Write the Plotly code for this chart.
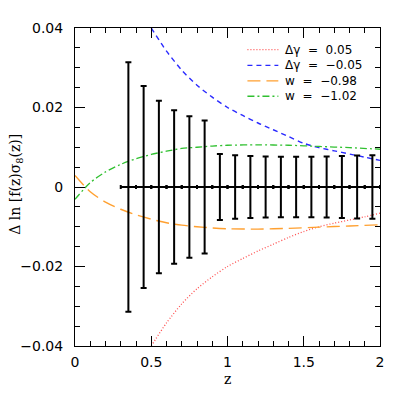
import plotly.graph_objects as go

# ---- data ----
z_err = [0.35, 0.45, 0.55, 0.65, 0.75, 0.85, 0.95, 1.05, 1.15, 1.25, 1.35,
         1.45, 1.55, 1.65, 1.75, 1.85, 1.95]
y_err = [0.0] * len(z_err)
sig = [0.0314, 0.0254, 0.0217, 0.0193, 0.0178, 0.0167, 0.0083, 0.0080,
       0.0078, 0.0077, 0.0076, 0.0076, 0.0076, 0.0077, 0.0078, 0.0079, 0.0080]
z_half = 0.05

z_gam = [0.5, 0.6, 0.7, 0.8, 0.9, 1.0, 1.1, 1.2, 1.3, 1.4, 1.5, 1.6, 1.7,
         1.8, 1.9, 2.0]
dg_p05 = [-0.0400, -0.0342, -0.0294, -0.0256, -0.0226, -0.0200, -0.0180,
          -0.0161, -0.0144, -0.0127, -0.0112, -0.0100, -0.0091, -0.0083,
          -0.0075, -0.0066]
dg_m05 = [0.0400, 0.0342, 0.0294, 0.0256, 0.0226, 0.0200, 0.0180, 0.0161,
          0.0144, 0.0127, 0.0110, 0.0099, 0.0091, 0.0083, 0.0075, 0.0067]

z_w = [0.0, 0.1, 0.2, 0.3, 0.4, 0.5, 0.6, 0.7, 0.8, 0.9, 1.0, 1.2, 1.4,
       1.6, 1.8, 2.0]
w_m098 = [0.0029, -0.0012, -0.0038, -0.0056, -0.0070, -0.0081, -0.0090,
          -0.0096, -0.0100, -0.0103, -0.0105, -0.0106, -0.0104, -0.0101,
          -0.0098, -0.0095]
w_m102 = [-0.0031, 0.0011, 0.0038, 0.0057, 0.0071, 0.0082, 0.0090, 0.0097,
          0.0100, 0.0103, 0.0105, 0.0106, 0.0105, 0.0102, 0.0099, 0.0095]

x_ticks = [0, 0.5, 1, 1.5, 2]
x_ticktext = ["0", "0.5", "1", "1.5", "2"]
y_ticks = [-0.04, -0.02, 0, 0.02, 0.04]
y_ticktext = ["\u22120.04", "\u22120.02", "0", "0.02", "0.04"]

legend_labels = ["\u0394\u03b3  =  0.05", "\u0394\u03b3  =  \u22120.05",
                 "w  =  \u22120.98", "w  =  \u22121.02"]

# ---- styles ----
RED, BLUE, ORANGE, GREEN = "#ff5050", "#2a2aff", "#ffa030", "#30c030"
styles = [
    (RED, "1px,2px", 1.3),
    (BLUE, "5px,4px", 1.4),
    (ORANGE, "13px,6px", 1.4),
    (GREEN, "7px,3px,2px,3px", 1.3),
]

fig = go.Figure()

curves = [(z_gam, dg_p05), (z_gam, dg_m05), (z_w, w_m098), (z_w, w_m102)]
for (zx, yy), (col, dash, wid), lab in zip(curves, styles, legend_labels):
    fig.add_trace(go.Scatter(x=zx, y=yy, mode="lines", name=lab,
                             line=dict(color=col, dash=dash, width=wid,
                                       shape="spline", smoothing=0.8),
                             showlegend=False))

fig.add_trace(go.Scatter(
    x=z_err, y=y_err, mode="markers", marker=dict(size=1, color="black"),
    error_y=dict(type="data", array=sig, color="black", thickness=2, width=3),
    error_x=dict(type="constant", value=z_half, color="black", thickness=2,
                 width=2),
    showlegend=False))

# ---- manual legend (key) ----
# page offset of the plot div (browser body margin)
OFF = 8
L, R, W0 = 74, 380, 306
T, B, H0 = 23, 346, 323
def px(x):
    return (x - L) / W0
def py(y):
    return (B - y) / H0

rows = [45, 61, 76.7, 92.3]
shapes = []
annotations = []
for r, (col, dash, wid), lab in zip(rows, styles, legend_labels):
    shapes.append(dict(type="line", xref="paper", yref="paper",
                       x0=px(247), x1=px(278), y0=py(r), y1=py(r),
                       line=dict(color=col, dash=dash, width=wid)))
    annotations.append(dict(xref="paper", yref="paper", x=px(283), y=py(r),
                            text=lab, showarrow=False, xanchor="left",
                            yanchor="middle",
                            font=dict(family="DejaVu Sans", size=12,
                                      color="black")))

annotations.append(dict(xref="paper", yref="paper", x=px(227), y=py(380),
                        text="z", showarrow=False, xanchor="center",
                        yanchor="middle",
                        font=dict(family="DejaVu Serif", size=14,
                                  color="black")))
annotations.append(dict(xref="paper", yref="paper", x=px(14), y=py(182),
                        text="\u0394 ln [f(z)\u03c3<sub>8</sub>(z)]",
                        textangle=-90, showarrow=False, xanchor="center",
                        yanchor="middle",
                        font=dict(family="DejaVu Serif", size=14,
                                  color="black")))

axis_common = dict(showline=True, linecolor="black", linewidth=1,
                   mirror="ticks", ticks="inside", ticklen=10,
                   tickcolor="black", tickwidth=1, showgrid=False,
                   zeroline=False,
                   tickfont=dict(family="DejaVu Sans", size=14,
                                 color="black"))

fig.update_layout(
    width=402, height=402,
    margin=dict(l=L - OFF, r=402 - R + OFF, t=T - OFF, b=402 - B + OFF),
    paper_bgcolor="white", plot_bgcolor="white",
    xaxis=dict(range=[0, 2], tickvals=x_ticks, ticktext=x_ticktext,
               minor=dict(ticks="inside", ticklen=5, dtick=0.1,
                          tickcolor="black", tickwidth=1, showgrid=False),
               ticklabelstandoff=3, **axis_common),
    yaxis=dict(range=[-0.04, 0.04], tickvals=y_ticks, ticktext=y_ticktext,
               minor=dict(ticks="inside", ticklen=5, dtick=0.005,
                          tickcolor="black", tickwidth=1, showgrid=False),
               ticklabelstandoff=8, **axis_common),
    shapes=shapes, annotations=annotations, showlegend=False,
)

fig.write_html("out.html")
